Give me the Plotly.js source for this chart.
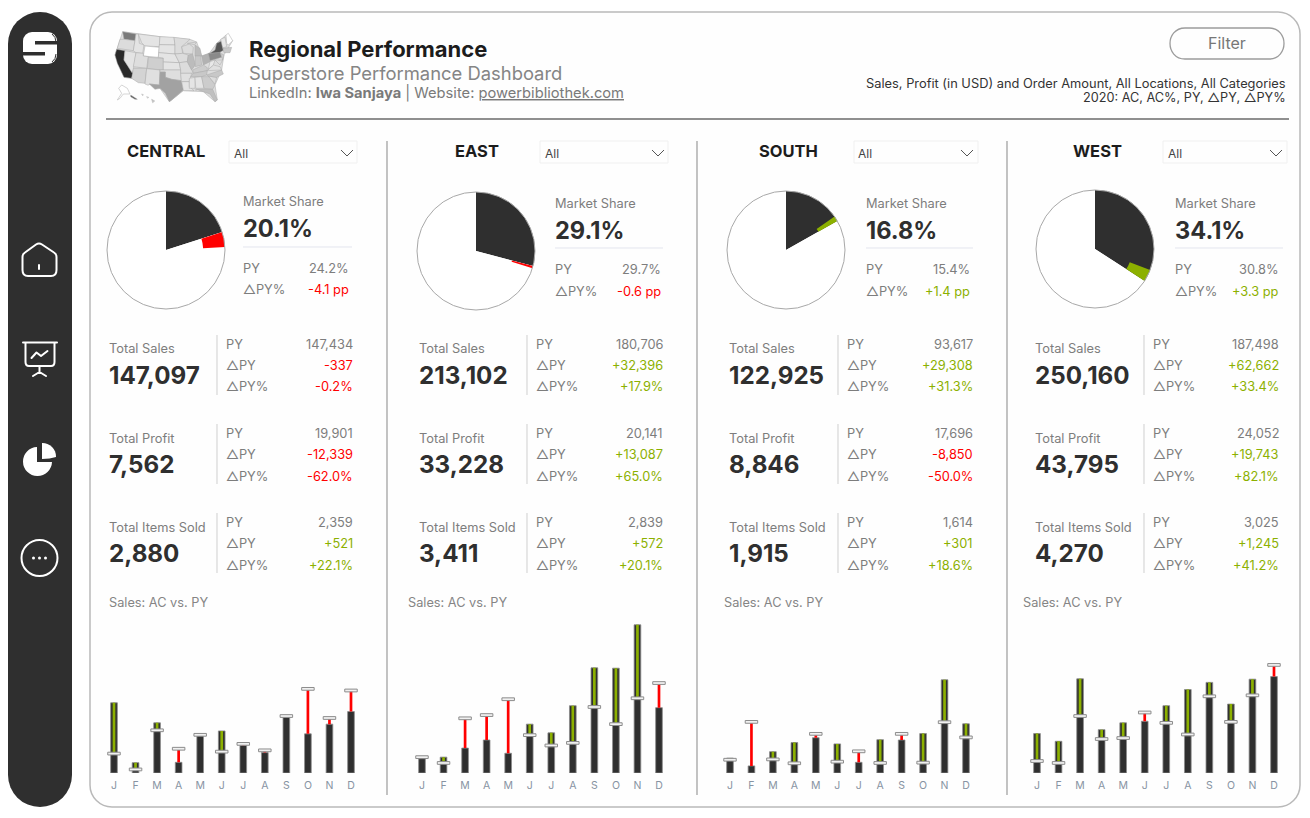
<!DOCTYPE html>
<html><head><meta charset="utf-8">
<script src="https://cdn.plot.ly/plotly-3.0.1.min.js"></script>
<style>
html,body{margin:0;padding:0;background:#fff;width:1310px;height:818px;overflow:hidden}
#deco{position:absolute;left:0;top:0}
#chart{position:absolute;left:0;top:0;width:1310px;height:818px}
</style></head><body>
<svg id="deco" width="1310" height="818" viewBox="0 0 1310 818">
<rect x="8" y="12" width="64" height="795" rx="32" fill="#2f2f2f"/>
<rect x="90" y="12" width="1210" height="795" rx="22" fill="#fefefe" stroke="#b9b9b9" stroke-width="1.5"/>
<!-- logo -->
<rect x="23" y="32" width="34" height="32" rx="9" fill="#fff"/>
<rect x="35" y="41" width="23" height="3.5" fill="#2f2f2f"/><rect x="22" y="52" width="23" height="3.5" fill="#2f2f2f"/>
<path d="M52 34 Q56 37 56 42 M52 62 Q56 59 56 54" fill="none" stroke="#2f2f2f" stroke-width="1"/>
<g fill="none" stroke="#fff" stroke-width="2" stroke-linecap="round" stroke-linejoin="round">
<path d="M36 244.5 Q39 242.5 42 244.5 L54 252.5 Q56.5 254 56.5 257 V270 Q56.5 276 51 276 H28 Q22.500 276 22.500 270 V257 Q22.500 254 25 252.500 Z"/>
<path d="M39 265 V269"/>
<path d="M23 342.5 H57 M25.500 343 V362 Q25.500 366 29 366 H51 Q54.500 366 54.500 362 V343 M39.500 366 V372 M39.500 372 L33 376 M39.500 372 L46 376 M31.500 358 L36.500 352.500 L41 356 L47.500 351"/>
<circle cx="39.500" cy="558" r="18"/>
</g>
<path d="M37 447 A14.500 14.500 0 1 0 52 462 H37 Z" fill="#fff"/>
<path d="M42 443 A13.500 13.500 0 0 1 56 457 Q50 459 42 459 Z" fill="#fff"/>
<g fill="#fff"><circle cx="33.500" cy="558" r="1.500"/><circle cx="39.500" cy="558" r="1.500"/><circle cx="45.500" cy="558" r="1.500"/></g>
<!-- small US map: decoration, drawn in the 3x space of the header crop -->
<g id="usmap" transform="translate(100 20) scale(0.3333)" stroke="#a9a9a9" stroke-width="1.5" stroke-linejoin="round"></g>
</svg>
<div id="chart"></div>
<script>
// ---------- data ----------
const regions = ['CENTRAL','EAST','SOUTH','WEST'];
const months = ['J','F','M','A','M','J','J','A','S','O','N','D'];

const shareAC = [20.1, 29.1, 16.8, 34.1];
const sharePY = [24.2, 29.7, 15.4, 30.8];
const shareDelta = [-4.1, -0.6, 1.4, 3.3];

const salesAC = [147097, 213102, 122925, 250160];
const salesPY = [147434, 180706, 93617, 187498];
const salesDelta = [-337, 32396, 29308, 62662];
const salesDeltaPct = [-0.2, 17.9, 31.3, 33.4];

const profitAC = [7562, 33228, 8846, 43795];
const profitPY = [19901, 20141, 17696, 24052];
const profitDelta = [-12339, 13087, -8850, 19743];
const profitDeltaPct = [-62.0, 65.0, -50.0, 82.1];

const itemsAC = [2880, 3411, 1915, 4270];
const itemsPY = [2359, 2839, 1614, 3025];
const itemsDelta = [521, 572, 301, 1245];
const itemsDeltaPct = [22.1, 20.1, 18.6, 41.2];

const monthlyCentralAC = [21700,3200,15500,3300,11600,13000,8500,6300,17400,12100,15100,19000];
const monthlyCentralPY = [6000,1100,13200,7500,11800,6600,9000,7000,17600,26000,17000,25500];
const monthlyEastAC = [4400,4900,7700,10200,6100,15100,12400,20800,32500,32400,45800,20200];
const monthlyEastPY = [4900,3100,16900,17900,22800,11700,8500,9300,20400,15100,23100,27800];
const monthlySouthAC = [4600,2200,6600,9400,10900,9000,3300,10300,10200,12200,28800,15200];
const monthlySouthPY = [4100,15800,4200,3000,12100,3500,6700,3100,12100,3200,15700,11000];
const monthlyWestAC = [12200,9800,29100,13400,15500,16000,20800,25800,28000,21300,29000,29800];
const monthlyWestPY = [3700,3100,17600,10500,10800,18700,15500,11900,23700,15800,24000,33400];
const monthlyAC = [monthlyCentralAC, monthlyEastAC, monthlySouthAC, monthlyWestAC];
const monthlyPY = [monthlyCentralPY, monthlyEastPY, monthlySouthPY, monthlyWestPY];

// ---------- layout geometry (page pixels) ----------
const W = 1310, H = 818;
const C = {dark:'#2f2f2f', red:'#ff0000', green:'#8cb000', grey:'#7d7d7d', text:'#2f2f2f', tick:'#8793a2', rule:'#9a9a9a'};
const panels = [
 {title:166, ddL:229, ddR:357, all:234, chev:347, pie:[166,250], mk:243, mkY:0, mkLine:352, mkVal:349, tot:109, sep:217, py:226, val:353, sales:109, j:114, d:351},
 {title:477, ddL:540, ddR:668, all:545, chev:658, pie:[476,251], mk:555, mkY:2, mkLine:663, mkVal:661, tot:419, sep:527, py:536, val:663, sales:408, j:422, d:659},
 {title:788, ddL:854, ddR:978, all:858, chev:967, pie:[786,250], mk:866, mkY:2, mkLine:973, mkVal:970, tot:729, sep:838, py:847, val:973, sales:724, j:730, d:966},
 {title:1097,ddL:1163,ddR:1287,all:1168,chev:1276,pie:[1095,249], mk:1175,mkY:2, mkLine:1283,mkVal:1279,tot:1035,sep:1144,py:1153,val:1279,sales:1023,j:1037,d:1274}
];
const PIE_R = 59, BASE_Y = 773, PLOT_TOP = 618, Y_MAX = 47900;
const px = x => x / W, py = y => 1 - y / H;

const annotations = [], shapes = [], data = [];
const layout = {width:W, height:H, margin:{l:0,r:0,t:0,b:0}, paper_bgcolor:'rgba(0,0,0,0)', plot_bgcolor:'rgba(0,0,0,0)',
  showlegend:false, barmode:'overlay', font:{family:'Inter, "Noto Sans", sans-serif'}, annotations, shapes, hovermode:false};

function label(x,y,text,o={}){
  const a = o.a||'left';
  const dx = a==='left' ? -1 : a==='right' ? 1 : 0;
  annotations.push({xref:'paper',yref:'paper',x:px(x+dx),y:py(y+0.5),text,showarrow:false,borderpad:0,
    xanchor:a,yanchor:'middle',align:a,
    font:{family:'Inter, sans-serif',size:o.s||13,color:o.c||C.grey,weight:o.w||400}});
}
function line(x0,y0,x1,y1,color,width){
  shapes.push({type:'line',xref:'paper',yref:'paper',x0:px(x0),y0:py(y0),x1:px(x1),y1:py(y1),line:{color,width},layer:'below'});
}
const signed = (v,unit='') => (v>0?'+':v<0?'-':'') + Math.abs(v).toLocaleString('en-US') + unit;
const pct = v => v.toFixed(1) + '%';
const spct = v => (v>0?'+':'-') + Math.abs(v).toFixed(1) + '%';
const sPP = v => (v>0?'+':'-') + Math.abs(v).toFixed(1) + ' pp';
const deltaColor = v => v<0 ? C.red : C.green;

// ---------- header ----------
label(249,48,'Regional Performance',{s:22,w:700,c:'#1c1c1c'});
label(249,72.5,'Superstore Performance Dashboard',{s:18.4,c:'#858585'});
label(249,93,'LinkedIn: <b>Iwa Sanjaya</b> | Website: <u>powerbibliothek.com</u>',{s:14.7,c:'#7a7a7a'});
label(1286,82.5,'Sales, Profit (in USD) and Order Amount, All Locations, All Categories',{s:12.85,a:'right',c:'#333'});
label(1286,97,'2020: AC, AC%, PY, △PY, △PY%',{s:12.7,a:'right',c:'#333'});
line(106,119,1289,119,'#6a6a6a',1.3);
shapes.push({type:'path',xref:'paper',yref:'paper',layer:'below',line:{color:'#9c9c9c',width:1.3},fillcolor:'rgba(0,0,0,0)',
  path:`M${px(1185)},${py(28)} L${px(1269)},${py(28)} C${px(1279)},${py(28)} ${px(1284)},${py(36)} ${px(1284)},${py(43.5)} C${px(1284)},${py(51)} ${px(1279)},${py(59)} ${px(1269)},${py(59)} L${px(1185)},${py(59)} C${px(1175)},${py(59)} ${px(1170)},${py(51)} ${px(1170)},${py(43.5)} C${px(1170)},${py(36)} ${px(1175)},${py(28)} ${px(1185)},${py(28)} Z`});
label(1227,43,'Filter',{s:16,a:'center',c:'#777'});
[387,697,1007].forEach(x => line(x,141,x,795,C.rule,1.2));

// ---------- panels ----------
const KPI_ROWS = [
 {name:'Total Sales',  ac:salesAC,  pyv:salesPY,  d:salesDelta,  dp:salesDeltaPct,  yL:348, yV:375, y:[344,365,386], s:[335,395]},
 {name:'Total Profit', ac:profitAC, pyv:profitPY, d:profitDelta, dp:profitDeltaPct, yL:438, yV:464, y:[433,454,476], s:[424,484]},
 {name:'Total Items Sold', ac:itemsAC, pyv:itemsPY, d:itemsDelta, dp:itemsDeltaPct, yL:527, yV:553, y:[522,543,565], s:[513,573]}
];
panels.forEach((p,i) => {
  label(p.title,150.5,regions[i],{s:16.5,w:700,a:'center',c:'#1c1c1c'});
  shapes.push({type:'rect',xref:'paper',yref:'paper',x0:px(p.ddL),x1:px(p.ddR),y0:py(141),y1:py(163),line:{color:'#f0f0f0',width:1},layer:'below'});
  label(p.all,153,'All',{s:12,c:'#444'});
  shapes.push({type:'path',xref:'paper',yref:'paper',layer:'below',line:{color:'#555',width:1},
    path:`M${px(p.chev-6)},${py(150)} L${px(p.chev)},${py(156)} L${px(p.chev+6)},${py(150)}`});

  // market share pies
  const [cx,cy] = p.pie;
  const dom = {x:[px(cx-PIE_R),px(cx+PIE_R)], y:[py(cy+PIE_R),py(cy-PIE_R)]};
  const pieBase = {type:'pie',domain:dom,sort:false,direction:'clockwise',rotation:0,textinfo:'none',hoverinfo:'skip',showlegend:false};
  data.push({...pieBase, values:[shareAC[i],100-shareAC[i]], marker:{colors:[C.dark,'#ffffff'],line:{width:0}}});
  const lo = Math.min(shareAC[i],sharePY[i]), hi = Math.max(shareAC[i],sharePY[i]);
  data.push({...pieBase, hole:0.63, values:[lo,hi-lo,100-hi],
    marker:{colors:['rgba(0,0,0,0)',deltaColor(shareDelta[i]),'rgba(0,0,0,0)'],line:{width:0}}});
  shapes.push({type:'circle',xref:'paper',yref:'paper',x0:px(cx-PIE_R),x1:px(cx+PIE_R),y0:py(cy-PIE_R),y1:py(cy+PIE_R),line:{color:'#a8a8a8',width:1},layer:'above'});

  const m = p.mkY;
  label(p.mk,201+m,'Market Share',{s:12.8});
  label(p.mk,228+m,pct(shareAC[i]),{s:23.6,w:700,c:C.text});
  line(p.mk,247+m-(i?1:0),p.mkLine,247+m-(i?1:0),'#e3e5ee',1);
  label(p.mk,268+(i?1:0),'PY',{s:12.8});
  label(p.mkVal,268+(i?1:0),pct(sharePY[i]),{s:12.8,a:'right'});
  label(p.mk,289+m,'△PY%',{s:12.8});
  label(p.mkVal,289+m,sPP(shareDelta[i]),{s:12.8,a:'right',c:deltaColor(shareDelta[i])});

  // KPI blocks
  KPI_ROWS.forEach(r => {
    label(p.tot,r.yL,r.name,{s:12.8});
    label(p.tot,r.yV,r.ac[i].toLocaleString('en-US'),{s:24.2,w:700,c:C.text});
    line(p.sep,r.s[0],p.sep,r.s[1],'#cfcfcf',1);
    label(p.py,r.y[0],'PY',{s:12.8});
    label(p.val,r.y[0],r.pyv[i].toLocaleString('en-US'),{s:12.8,a:'right'});
    label(p.py,r.y[1],'△PY',{s:12.8});
    label(p.val,r.y[1],signed(r.d[i]),{s:12.8,a:'right',c:deltaColor(r.d[i])});
    label(p.py,r.y[2],'△PY%',{s:12.8});
    label(p.val,r.y[2],spct(r.dp[i]),{s:12.8,a:'right',c:deltaColor(r.dp[i])});
  });
  label(p.sales,602,'Sales: AC vs. PY',{s:12.75,c:'#858585'});

  // monthly bars
  const sfx = i===0 ? '' : String(i+1);
  const step = (p.d-p.j)/11;
  layout['xaxis'+sfx] = {domain:[px(p.j-step/2),px(p.d+step/2)],range:[-0.5,11.5],anchor:'y'+sfx,tickmode:'array',
    tickvals:months.map((_,k)=>k),ticktext:months,tickfont:{family:'Inter, sans-serif',size:10.5,color:C.tick},
    showgrid:false,zeroline:false,showline:false,ticks:'outside',ticklen:2,tickcolor:'rgba(0,0,0,0)',fixedrange:true};
  layout['yaxis'+sfx] = {domain:[py(BASE_Y),py(PLOT_TOP)],range:[0,Y_MAX],anchor:'x'+sfx,visible:false,fixedrange:true};
  const ac = monthlyAC[i], pv = monthlyPY[i], xs = months.map((_,k)=>k);
  const barBase = {type:'bar',xaxis:'x'+sfx,yaxis:'y'+sfx,x:xs,hoverinfo:'skip',showlegend:false};
  data.push({...barBase,y:ac,width:0.31,marker:{color:C.dark,line:{color:'#8c8c8c',width:0.8}}});
  data.push({...barBase,y:ac.map((v,k)=>Math.abs(v-pv[k])),base:ac.map((v,k)=>Math.min(v,pv[k])),width:0.125,
    marker:{color:ac.map((v,k)=>v>=pv[k]?C.green:C.red),line:{width:0}}});
  data.push({...barBase,y:pv.map(()=>850),base:pv.map(v=>v-425),width:0.58,
    marker:{color:'#f1f1f1',line:{color:'#8c8c8c',width:1}}});
});

// ---------- small state map (3x crop coordinates; decoration only) ----------
const statePolys = [
 ['#dddddd','68,35 180,50 270,58 290,66 305,108 328,100 350,70 378,45 398,62 372,105 365,150 345,195 352,240 345,245 310,215 250,212 215,240 208,245 180,205 148,192 95,175 72,172 45,105'],
 ['#7a7a7a','68,35 108,42 105,62 72,58'],['#dcdcdc','60,58 72,58 105,62 100,92 52,85'],
 ['#2a2a2a','50,88 75,92 72,120 100,160 95,175 72,172 52,130 45,105'],['#e4e4e4','75,92 108,98 100,150 96,158 72,120'],
 ['#e4e4e4','108,42 115,42 118,70 132,75 128,100 108,98 100,92 105,62'],['#e4e4e4','115,42 180,50 178,80 135,78 125,68'],
 ['#ffffff','135,78 178,82 175,112 130,108'],['#dedede','108,98 130,100 130,108 145,110 140,145 100,140'],
 ['#d4d4d4','100,145 140,145 135,190 115,188 95,175'],['#cfcfcf','145,112 190,115 190,150 142,146'],
 ['#e0e0e0','140,146 180,150 178,195 148,192 145,196 135,192'],['#e4e4e4','180,50 222,52 225,75 178,74'],
 ['#e4e4e4','178,74 225,75 225,102 176,98'],['#e4e4e4','176,98 225,102 238,128 190,126 190,114 175,112'],
 ['#e4e4e4','190,126 238,128 242,150 190,150'],['#dedede','180,150 242,150 244,182 215,178 196,172 196,156 180,156'],
 ['#a2a2a2','196,156 196,172 215,178 244,182 250,210 215,240 208,245 196,220 180,205 165,208 148,192 178,195 180,156'],
 ['#dcdcdc','222,52 270,58 245,80 248,100 225,102 225,75'],['#dcdcdc','225,102 248,100 265,105 262,125 238,128'],
 ['#dcdcdc','238,128 262,125 275,150 280,160 242,160 242,150'],['#e0e0e0','242,160 275,160 268,185 245,185 244,182'],
 ['#e4e4e4','245,185 268,185 268,200 282,212 250,212 250,210'],['#dcdcdc','245,80 268,72 280,82 278,102 250,100'],
 ['#bcbcbc','265,105 278,102 286,135 275,150 262,125'],['#bcbcbc','285,75 300,85 305,108 285,108'],['#dcdcdc','262,70 290,66 284,74'],
 ['#c8c8c8','286,108 302,108 305,135 286,140'],['#b2b2b2','305,108 328,100 330,125 310,135'],
 ['#cccccc','278,150 310,135 322,143 322,152 280,160'],['#c8c8c8','272,170 280,160 322,152 320,165 305,170'],
 ['#e4e4e4','268,175 285,172 285,205 268,205'],['#e4e4e4','285,172 305,170 312,205 290,205 288,212'],
 ['#cccccc','305,170 328,170 345,195 338,208 312,205'],['#c0c0c0','290,208 338,208 352,240 345,245 330,222 310,215'],
 ['#dcdcdc','325,168 350,172 345,192'],['#c8c8c8','320,165 365,150 370,162 350,172 325,168'],
 ['#e0e0e0','322,152 340,135 360,140 365,150'],['#e8e8e8','330,125 345,120 340,135 325,148'],
 ['#8a8a8a','325,100 360,95 365,112 330,122'],['#555555','330,100 345,90 350,70 366,62 372,90 360,97'],
 ['#cccccc','362,100 372,105 368,120'],['#dcdcdc','345,120 368,120 360,135'],['#c8c8c8','368,85 395,82 390,98 372,98'],
 ['#e8e8e8','362,58 375,52 380,80 368,84'],['#ffffff','378,45 385,40 398,62 385,75 380,70'],
 ['#ffffff','65,195 82,205 90,222 70,222 60,235 52,240 65,220 56,205'],['#555555','92,225 112,238 105,238 92,230'],
 ['#e4e4e4','125,222 130,224 128,227'],['#e4e4e4','140,230 146,232 143,235'],['#cccccc','155,238 164,243 158,248']
];
document.getElementById('usmap').innerHTML = statePolys.map(([f,pts]) => `<polygon fill="${f}" points="${pts}"/>`).join('');

Plotly.newPlot('chart', data, layout, {staticPlot:true, displayModeBar:false});
</script>
</body></html>
